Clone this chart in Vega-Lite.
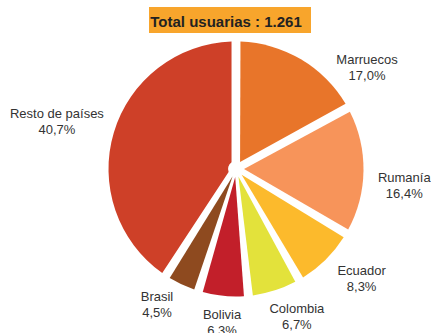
{
  "$schema": "https://vega.github.io/schema/vega-lite/v6.json",
  "padding": {"left": 9, "top": 5, "right": 0, "bottom": 0},
  "spacing": 4,
  "bounds": "flush",
  "config": {"font": "Liberation Sans", "view": {"stroke": null}},
  "vconcat": [
    {
      "width": 162,
      "height": 26,
      "view": {"fill": "#F8A52C", "stroke": null},
      "data": {"values": [{"t": "Total usuarias : 1.261"}]},
      "mark": {"type": "text", "fontSize": 15, "fontWeight": "bold", "color": "#222222", "dx": -4, "dy": 2},
      "encoding": {"text": {"field": "t", "type": "nominal"}}
    },
    {
      "width": 174,
      "height": 264,
      "data": {
        "values": [
          {"name": "Marruecos", "pct": 17.0, "label": "Marruecos\n17,0%", "ord": 1},
          {"name": "Rumanía", "pct": 16.4, "label": "Rumanía\n16,4%", "ord": 2},
          {"name": "Ecuador", "pct": 8.3, "label": "Ecuador\n8,3%", "ord": 3},
          {"name": "Colombia", "pct": 6.7, "label": "Colombia\n6,7%", "ord": 4},
          {"name": "Bolivia", "pct": 6.3, "label": "Bolivia\n6,3%", "ord": 5},
          {"name": "Brasil", "pct": 4.5, "label": "Brasil\n4,5%", "ord": 6},
          {"name": "Resto de países", "pct": 40.7, "label": "Resto de países\n40,7%", "ord": 7}
        ]
      },
      "encoding": {
        "theta": {"field": "pct", "type": "quantitative", "stack": true},
        "order": {"field": "ord", "type": "quantitative"},
        "detail": {"field": "name", "type": "nominal"}
      },
      "layer": [
        {
          "mark": {"type": "arc", "radius": 127.5, "radius2": 8, "padAngle": 0.07},
          "encoding": {
            "color": {
              "field": "name",
              "type": "nominal",
              "scale": {
                "domain": ["Marruecos", "Rumanía", "Ecuador", "Colombia", "Bolivia", "Brasil", "Resto de países"],
                "range": ["#E8752A", "#F7945A", "#FCBA2C", "#E3E23B", "#C21F2A", "#8E4A1F", "#CE4028"]
              },
              "legend": null
            }
          }
        },
        {
          "mark": {"type": "text", "radius": 165.4, "thetaOffset": 0.38, "dy": -8, "lineBreak": "\n", "fontSize": 13, "lineHeight": 16, "color": "#333333"},
          "encoding": {"text": {"condition": {"test": "datum.name === 'Marruecos'", "field": "label", "type": "nominal"}, "value": ""}}
        },
        {
          "mark": {"type": "text", "radius": 169.2, "thetaOffset": 0.089, "dy": -8, "lineBreak": "\n", "fontSize": 13, "lineHeight": 16, "color": "#333333"},
          "encoding": {"text": {"condition": {"test": "datum.name === 'Rumanía'", "field": "label", "type": "nominal"}, "value": ""}}
        },
        {
          "mark": {"type": "text", "radius": 166.9, "thetaOffset": -0.072, "dy": -8, "lineBreak": "\n", "fontSize": 13, "lineHeight": 16, "color": "#333333"},
          "encoding": {"text": {"condition": {"test": "datum.name === 'Ecuador'", "field": "label", "type": "nominal"}, "value": ""}}
        },
        {
          "mark": {"type": "text", "radius": 160, "thetaOffset": -0.082, "dy": -8, "lineBreak": "\n", "fontSize": 13, "lineHeight": 16, "color": "#333333"},
          "encoding": {"text": {"condition": {"test": "datum.name === 'Colombia'", "field": "label", "type": "nominal"}, "value": ""}}
        },
        {
          "mark": {"type": "text", "radius": 154.3, "thetaOffset": -0.01, "dy": -8, "lineBreak": "\n", "fontSize": 13, "lineHeight": 16, "color": "#333333"},
          "encoding": {"text": {"condition": {"test": "datum.name === 'Bolivia'", "field": "label", "type": "nominal"}, "value": ""}}
        },
        {
          "mark": {"type": "text", "radius": 157.3, "thetaOffset": 0.086, "dy": -8, "lineBreak": "\n", "fontSize": 13, "lineHeight": 16, "color": "#333333"},
          "encoding": {"text": {"condition": {"test": "datum.name === 'Brasil'", "field": "label", "type": "nominal"}, "value": ""}}
        },
        {
          "mark": {"type": "text", "radius": 150, "thetaOffset": -0.035, "dx": -34, "dy": -17, "lineBreak": "\n", "fontSize": 13, "lineHeight": 16, "color": "#333333"},
          "encoding": {"text": {"condition": {"test": "datum.name === 'Resto de países'", "field": "label", "type": "nominal"}, "value": ""}}
        }
      ]
    }
  ]
}
